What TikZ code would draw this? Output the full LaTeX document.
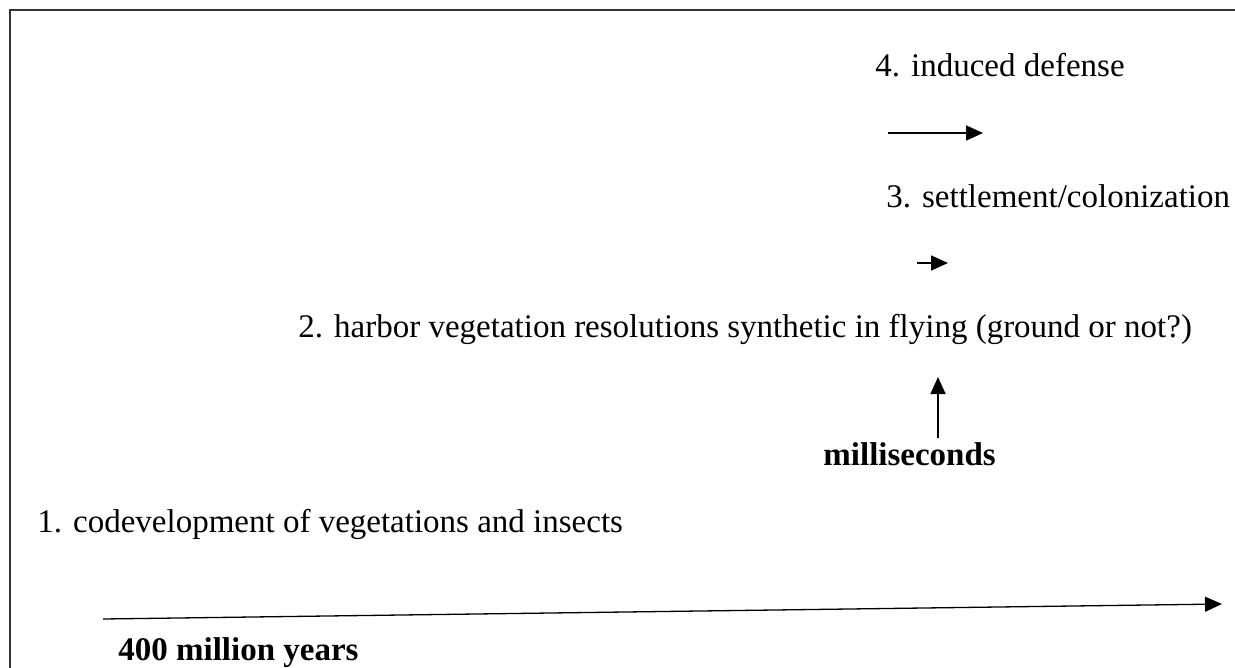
\documentclass[tikz,border=0pt]{standalone}
\usepackage{fontspec}
\setmainfont{Liberation Serif}
\usepackage{tikz}
\usetikzlibrary{arrows.meta}
\definecolor{FrameColor}{rgb}{0.2,0.2,0.2}
\tikzset{
    stagetext/.style={
        anchor=base west,
        inner sep=0pt,
        font=\fontsize{16.5}{20}\selectfont
    },
    scaletext/.style={
        stagetext,
        font=\fontsize{16.5}{20}\selectfont\bfseries
    },
    flow/.style={
        -{Triangle[length=8.5pt, width=7.5pt]},
        line width=0.75pt,
        draw=black
    }
}
\begin{document}
\begin{tikzpicture}[x=0.5pt, y=-0.5pt]

\useasboundingbox (0,0) rectangle (1235,668);

% Frame (only top and left edges are in view)
\draw[draw=FrameColor, line width=1.1pt] (10,668) -- (10,10) -- (1235,10);

% Stages
\node[stagetext] (t_induced) at (875,77) {4. induced defense};
\node[stagetext] (t_settle) at (886,207) {3. settlement/colonization};
\node[stagetext] (t_harbor) at (298,337) {2. harbor vegetation resolutions synthetic in flying (ground or not?)};
\node[stagetext] (t_codev) at (37,532) {1. codevelopment of vegetations and insects};

% Time scales
\node[scaletext] (t_ms) at (823,465) {milliseconds};
\node[scaletext] (t_years) at (118,660) {400 million years};

% Arrows
\coordinate (a_induced_s) at (888,133);
\coordinate (a_induced_e) at (983,133);
\draw[flow] (a_induced_s) -- (a_induced_e);

\coordinate (a_settle_s) at (917,263);
\coordinate (a_settle_e) at (948,263);
\draw[flow] (a_settle_s) -- (a_settle_e);

\coordinate (a_ms_s) at (938,438);
\coordinate (a_ms_e) at (938,377);
\draw[flow] (a_ms_s) -- (a_ms_e);

\coordinate (a_time_s) at (103,619);
\coordinate (a_time_e) at (1222,604);
\draw[flow, line width=0.65pt] (a_time_s) -- (a_time_e);

\end{tikzpicture}
\end{document}
